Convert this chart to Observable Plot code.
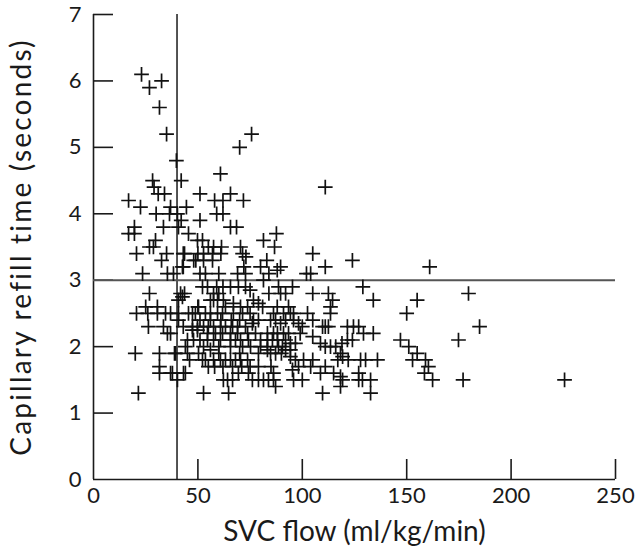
<!DOCTYPE html>
<html><head><meta charset="utf-8">
<script src="https://cdn.jsdelivr.net/npm/d3@7"></script>
<script src="https://cdn.jsdelivr.net/npm/@observablehq/plot@0.6"></script>
<style>
body{margin:0;background:#fff}
#chart svg text[transform*="rotate(-90"]{letter-spacing:2.2px}
</style>
</head><body><div id="chart"></div>
<script>
// SVC flow (ml/kg/min)
const svcFlow = [
23,32.6,26.8,31.6,35,39.7,42,60.8,75.7,70,65.6,51,58,62,71.8,59,62,51,65.6,68.5,87.6,81.4,86.7,111,105,
28.3,29,31,34,16.8,22.5,36.9,44.5,30,36.4,40.2,42,19.6,16.8,19.6,33.5,40.7,45.5,49.8,52.2,29.7,26.8,28.7,20.6,35,32.6,43.6,48,57.5,61.3,70.4,55,23.5,35.4,38.3,43,51,53.6,
43,50,52.7,57,61,49,52.7,57,71.4,73,83,80,72,42.6,60,69,72.8,81.4,84,88,
26.8,41.7,40.7,25,30.6,20.6,26,30.6,34.5,36.9,40.7,50,26.3,33.5,40.7,35.4,20,31.6,38.8,50.3,31.6,31.6,36.9,44,40.2,21.5,52.7,
52.2,54.6,59,62,65.6,69.4,72.8,75,84,43.6,57.5,60,42.6,56,57.5,59.4,62.2,67,70.4,76.6,79,50.3,45.5,47.4,48.8,53.6,56,59.4,61.8,67,71.4,75,76.6,79,86.2,
47.4,49.8,52.7,55,57.5,60.8,63.2,66.6,69,72.8,76.1,47.4,49.8,36.9,58.4,61.8,65.6,68,70.4,74.2,47.9,51,54.6,57.5,60.8,80,83.3,85.7,88.1,65.6,52.7,56,83.3,
39.3,52.2,53.6,57.5,60.8,63.2,65.6,68,70.4,73.8,79,83.3,84.8,55,66.6,75,79,37.8,43.1,62.2,64.2,66.6,69.4,74.2,76.1,79,81.4,83.8,86.2,64.7,
89.6,111,124,102,104,88.6,95.3,129,89.6,92,105,112.5,114.5,113.5,134,93.4,113.5,91,94.3,95.8,102.5,105,84.8,87.2,89.6,92,95.8,98.2,100,
109.7,111,112.5,121.6,124.5,127,129.3,134,86.2,88.1,92,94.3,96.7,105,108.7,111,113.5,116,119,121.6,124,88.6,92,94.3,118.3,119.3,87.2,
94.3,96.7,100.6,105,117,122,127.9,130.3,136,111,95.3,98.2,86.2,108.7,115,118.3,119.3,127,127,128.8,132.7,95.8,100,87.2,118.3,109.7,132.7,
161,155,150,147,151,155,152.8,159,160.4,158.5,162.4,179.6,184.9,174.8,177,225.6,
60,71.4,75.2,80,90.5,54.6,65.6,69,73.8,77.6,83.3,91,93.4,99,63.2,73.8,81,88,51,56,61,66,70,45,60,70,90,58,62,71,85,104,43,45,44,46
];
// Capillary refill time (seconds)
const refillTime = [
6.1,6.0,5.9,5.6,5.2,4.8,4.5,4.6,5.2,5.0,4.3,4.3,4.2,4.2,4.2,4.0,4.0,3.9,3.8,3.8,3.7,3.6,3.5,4.4,3.4,
4.5,4.4,4.3,4.3,4.2,4.1,4.1,4.1,4.0,4.0,4.0,3.9,3.8,3.7,3.7,3.8,3.8,3.7,3.6,3.6,3.6,3.5,3.5,3.4,3.4,3.3,3.4,3.3,3.5,3.5,3.5,3.5,3.1,3.1,3.1,3.2,3.1,3.1,
3.4,3.4,3.4,3.4,3.4,3.3,3.3,3.3,3.4,3.35,3.3,3.2,3.2,3.2,3.1,3.1,3.1,3.0,3.1,3.15,
2.8,2.8,2.7,2.6,2.6,2.5,2.5,2.5,2.5,2.5,2.5,2.6,2.3,2.3,2.4,2.2,1.9,1.9,1.9,1.9,1.7,1.6,1.6,1.6,1.5,1.3,1.3,
2.9,2.9,2.9,2.9,2.9,2.9,2.9,2.85,2.8,2.8,2.8,2.8,2.75,2.7,2.7,2.7,2.7,2.65,2.6,2.7,2.65,2.6,2.5,2.5,2.5,2.5,2.5,2.5,2.5,2.5,2.5,2.5,2.4,2.4,2.5,
2.3,2.3,2.3,2.3,2.3,2.3,2.3,2.3,2.3,2.3,2.35,2.25,2.25,2.2,2.2,2.2,2.1,2.1,2.1,2.1,2.1,2.1,2.1,2.1,2.1,2.1,2.1,2.1,2.1,2.0,2.0,1.95,2.0,
1.9,1.8,1.8,1.8,1.8,1.8,1.8,1.8,1.8,1.8,1.9,1.95,1.9,1.7,1.7,1.7,1.7,1.6,1.6,1.5,1.5,1.5,1.6,1.6,1.5,1.5,1.5,1.5,1.5,1.3,
3.2,3.2,3.3,3.1,3.1,2.9,2.9,2.9,2.8,2.8,2.8,2.8,2.7,2.6,2.7,2.6,2.5,2.5,2.5,2.5,2.5,2.4,2.4,2.4,2.35,2.4,2.4,2.35,2.3,
2.3,2.3,2.3,2.3,2.3,2.3,2.2,2.2,2.2,2.2,2.1,2.05,2.05,2.15,2.05,2.0,2.0,2.0,2.05,2.1,2.1,2.0,1.95,1.95,1.9,1.85,1.9,
1.85,1.8,1.8,1.8,1.8,1.8,1.8,1.8,1.8,1.7,1.65,1.7,1.6,1.6,1.6,1.55,1.5,1.6,1.5,1.5,1.5,1.5,1.5,1.4,1.4,1.3,1.3,
3.2,2.7,2.5,2.1,2.0,1.9,1.8,1.8,1.7,1.6,1.5,2.8,2.3,2.1,1.5,1.5,
2.0,2.0,2.0,2.0,2.0,2.2,2.2,2.2,2.2,2.2,2.2,2.2,2.2,2.2,2.6,2.6,2.6,2.6,2.4,2.4,2.4,2.4,2.4,1.9,1.9,1.9,1.9,1.7,1.7,1.7,1.7,1.7,2.3,2.1,2.0,1.8
];
const xTicks = [0, 50, 100, 150, 200, 250];
const yTicks = [0, 1, 2, 3, 4, 5, 6, 7];
const xTitle = "SVC flow (ml/kg/min)";
const yTitle = "Capillary refill time (seconds)";
const svcThreshold = 40;
const crtThreshold = 3;

const data = svcFlow.map((x, i) => ({x, y: refillTime[i]}));
const ink = "#1a1a1a";

const chart = Plot.plot({
  width: 640, height: 557,
  marginLeft: 93, marginRight: 25, marginTop: 14, marginBottom: 78,
  style: {fontFamily: "Lato, sans-serif", fontSize: "22px", color: ink, background: "#fff"},
  x: {domain: [0, 250]},
  y: {domain: [0, 7]},
  marks: [
    // tick labels
    Plot.axisX(xTicks, {tickSize: 0, tickPadding: 8, tickFormat: "d", label: null}),
    Plot.axisY(yTicks, {tickSize: 0, tickPadding: 12, tickFormat: "d", label: null}),
    // inward tick marks (axis ticks shifted inside the frame)
    Plot.axisX(xTicks.filter(d => d > 0), {tickSize: 20, dy: -20, text: null, label: null, stroke: ink, strokeWidth: 1.6}),
    Plot.axisY(yTicks.filter(d => d > 0), {tickSize: 20, dx: 20, text: null, label: null, stroke: ink, strokeWidth: 1.6}),
    Plot.text([xTitle], {text: d => d, frameAnchor: "bottom", dy: 61, fontSize: 28, fill: ink}),
    Plot.text([yTitle], {text: d => d, frameAnchor: "left", textAnchor: "middle", dx: -71, rotate: -90, fontSize: 28, fill: ink}),
    Plot.ruleX([0], {stroke: ink, strokeWidth: 1.6}),
    Plot.ruleY([0], {stroke: ink, strokeWidth: 1.6}),
    Plot.ruleX([svcThreshold], {stroke: ink, strokeWidth: 1.5}),
    Plot.ruleY([crtThreshold], {stroke: "#555", strokeWidth: 2}),
    Plot.dot(data, {x: "x", y: "y", symbol: "plus", r: 4.8, stroke: "#111", strokeWidth: 1.7})
  ]
});
document.getElementById("chart").append(chart);
</script>
</body></html>
